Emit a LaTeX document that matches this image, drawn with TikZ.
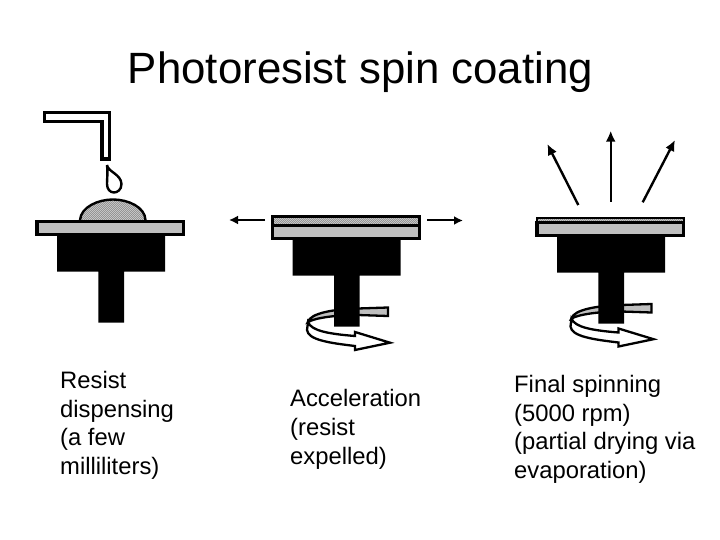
\documentclass[tikz,border=0pt]{standalone}
\usepackage{fontspec}
\setmainfont{Liberation Sans}
\usetikzlibrary{arrows.meta,patterns,positioning}
\definecolor{platecolor}{gray}{0.75}
\pgfdeclarepatternformonly{finehatch}{\pgfqpoint{-1pt}{-1pt}}{\pgfqpoint{3pt}{3pt}}{\pgfqpoint{2pt}{2pt}}{
	\pgfsetlinewidth{0.8pt}
	\pgfpathmoveto{\pgfqpoint{-0.5pt}{-0.5pt}}
	\pgfpathlineto{\pgfqpoint{2.5pt}{2.5pt}}
	\pgfusepath{stroke}
}
\tikzset{
	platepart/.style={draw=black,line width=3.4pt,fill=platecolor},
	resistpart/.style={draw=black,line width=3.4pt,pattern=finehatch,pattern color=black!42},
	flingarrow/.style={-{Latex[length=11pt,width=10pt]},line width=2.4pt},
	notetext/.style={anchor=north west,align=left,inner sep=0pt,font=\fontsize{23.8pt}{28.7pt}\selectfont}
}
% chuck and stem, #1 #2 = shift
\newcommand{\chuckbody}[2]{
	\begin{scope}[shift={(#1,#2)}]
	\fill[black] (57,230)--(165,230)--(165,271.7)--(124,271.7)--(124,322.7)--(98.3,322.7)--(98.3,271.7)--(57,271.7)--cycle;
	\draw[platepart] (37,221.5) rectangle (183.5,234.5);
	\end{scope}
}
% rotation arrow, drawn before the chuck
\newcommand{\spinarrow}[2]{
	\begin{scope}[shift={(#1,#2)},line width=2.3pt,line join=miter]
	\draw[fill=white] (308,322)--(307,330) .. controls (308,340) and (330,343) .. (355,346)--(355,350)--(390,342.7)--(355,332)--(355,336) .. controls (330,334) and (311,331) .. (308,322)--cycle;
	\draw[fill=platecolor] (388,307.5)--(358,308.5) .. controls (335,309) and (310,313) .. (308,322) .. controls (315,318) and (335,315) .. (358,315)--(388,316)--cycle;
	\end{scope}
}
\begin{document}
\begin{tikzpicture}[x=1pt,y=-1pt]
	\useasboundingbox (0,0) rectangle (720,540);
	\node (title) at (360.5,72) {\fontsize{43.8pt}{48pt}\selectfont Photoresist spin coating};
	% first stage
	\draw[line width=3.4pt,fill=white] (44.5,112.5)--(109.5,112.5)--(109.5,159)--(102,159)--(102,121.5)--(44.5,121.5)--cycle;
	\draw[line width=2.4pt] (107,165) .. controls (108,172) and (121,174) .. (121.5,184) .. controls (121.5,190) and (117,192.5) .. (114,192.5) .. controls (110,192.5) and (107,189) .. (107,184) .. controls (107,178) and (108,172) .. (107,165);
	\draw[line width=2.4pt,pattern=finehatch,pattern color=black!42] (80,220) .. controls (81,207) and (98,199.5) .. (113,199.5) .. controls (128,199.5) and (145,207) .. (145.5,220);
	\chuckbody{0}{0}
	% second stage
	\spinarrow{0}{0}
	\chuckbody{235.7}{4}
	\draw[resistpart] (272.2,216.5) rectangle (419.7,225.5);
	\coordinate (leftstart) at (265,220);
	\coordinate (lefttip) at (229,220);
	\coordinate (rightstart) at (427,220.5);
	\coordinate (righttip) at (463,220.5);
	\draw[-{Latex[length=9pt,width=9pt]},line width=2.6pt] (leftstart)--(lefttip);
	\draw[-{Latex[length=9pt,width=9pt]},line width=2pt] (rightstart)--(righttip);
	% third stage
	\spinarrow{263.5}{-3.5}
	\chuckbody{500}{1}
	\draw[draw=black,line width=2.8pt,pattern=finehatch,pattern color=black!42] (537,218) rectangle (684,222.5);
	\coordinate (flinga) at (578.3,205);
	\coordinate (flingatip) at (547.3,144);
	\coordinate (flingb) at (610.7,201.7);
	\coordinate (flingbtip) at (610.7,130.7);
	\coordinate (flingc) at (642.7,202.3);
	\coordinate (flingctip) at (675,140);
	\draw[flingarrow] (flinga)--(flingatip);
	\draw[flingarrow] (flingb)--(flingbtip);
	\draw[flingarrow] (flingc)--(flingctip);
	% captions
	\node[notetext] (notea) at (60,371) {Resist\\dispensing\\(a few\\milliliters)};
	\node[notetext] (noteb) at (290,389.5) {Acceleration\\(resist\\expelled)};
	\node[notetext] (notec) at (514,375) {Final spinning\\(5000 rpm)\\(partial drying via\\evaporation)};
\end{tikzpicture}
\end{document}
